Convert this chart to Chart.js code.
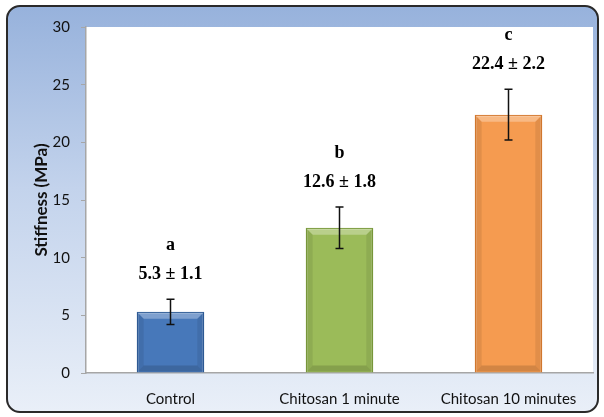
<!DOCTYPE html>
<html>
<head>
<meta charset="utf-8">
<script src="https://cdn.jsdelivr.net/npm/chart.js@4"></script>
<style>
  html, body { margin: 0; padding: 0; background: #ffffff; }
  #wrap { position: relative; width: 604px; height: 417px; }
  #frame {
    position: absolute; left: 6px; top: 5px; width: 589px; height: 404px;
    border: 2px solid #2a2a2a; border-radius: 14px;
    background: linear-gradient(to bottom, #97b2dc 0%, #c3d3ec 45%, #e9eff8 100%);
  }
  #stiffChart { position: absolute; left: 0; top: 0; }
</style>
</head>
<body>
<div id="wrap">
  <div id="frame"></div>
  <canvas id="stiffChart" width="604" height="417"></canvas>
</div>
<script>
// dati
const groups = ['Control', 'Chitosan 1 minute', 'Chitosan 10 minutes'];
const means = [5.3, 12.6, 22.4];
const sds = [1.1, 1.8, 2.2];
const letters = ['a', 'b', 'c'];
const yTicks = [0, 5, 10, 15, 20, 25, 30];

const fillColors = ['#4778ba', '#9bbb59', '#f59b50'];
const edgeColors = ['#2f5c97', '#7a9a3c', '#d57a30'];

// sfondo bianco dell'area del grafico
const plotBg = {
    id: 'plotBg',
    beforeDraw(chart) {
        const { ctx, chartArea: a } = chart;
        ctx.save();
        ctx.fillStyle = '#ffffff';
        ctx.fillRect(a.left, a.top, a.right - a.left, a.bottom - a.top);
        ctx.restore();
    }
};

// effetto smussato sulle barre
const bevel = {
    id: 'bevel',
    afterDatasetsDraw(chart) {
        const { ctx } = chart;
        const meta = chart.getDatasetMeta(0);
        ctx.save();
        meta.data.forEach((bar) => {
            const l = bar.x - bar.width / 2 + 1, r = bar.x + bar.width / 2 - 1;
            const t = bar.y + 1, b = bar.base - 1, d = 6;
            // striscia chiara in alto
            ctx.fillStyle = 'rgba(255,255,255,0.30)';
            ctx.beginPath();
            ctx.moveTo(l, t); ctx.lineTo(r, t); ctx.lineTo(r - d, t + d); ctx.lineTo(l + d, t + d);
            ctx.closePath(); ctx.fill();
            // lati più scuri
            ctx.fillStyle = 'rgba(0,0,0,0.08)';
            ctx.beginPath();
            ctx.moveTo(l, t); ctx.lineTo(l + d, t + d); ctx.lineTo(l + d, b - d); ctx.lineTo(l, b);
            ctx.closePath(); ctx.fill();
            ctx.beginPath();
            ctx.moveTo(r, t); ctx.lineTo(r - d, t + d); ctx.lineTo(r - d, b - d); ctx.lineTo(r, b);
            ctx.closePath(); ctx.fill();
            ctx.fillStyle = 'rgba(0,0,0,0.14)';
            ctx.beginPath();
            ctx.moveTo(l, b); ctx.lineTo(l + d, b - d); ctx.lineTo(r - d, b - d); ctx.lineTo(r, b);
            ctx.closePath(); ctx.fill();
        });
        ctx.restore();
    }
};

// barre di errore + etichette (lettera e media ± ds)
const errLabels = {
    id: 'errLabels',
    afterDatasetsDraw(chart) {
        const { ctx } = chart;
        const y = chart.scales.y;
        const meta = chart.getDatasetMeta(0);
        ctx.save();
        meta.data.forEach((bar, i) => {
            const x = bar.x;
            const top = y.getPixelForValue(means[i] + sds[i]);
            const bot = y.getPixelForValue(means[i] - sds[i]);
            ctx.strokeStyle = '#111';
            ctx.lineWidth = 1.5;
            ctx.beginPath();
            ctx.moveTo(x, top); ctx.lineTo(x, bot);
            ctx.moveTo(x - 4, top); ctx.lineTo(x + 4, top);
            ctx.moveTo(x - 4, bot); ctx.lineTo(x + 4, bot);
            ctx.stroke();

            ctx.fillStyle = '#000';
            ctx.font = 'bold 18px "Liberation Serif", "Times New Roman", serif';
            ctx.textAlign = 'center';
            ctx.textBaseline = 'middle';
            const valY = top - 25;
            ctx.fillText(means[i].toFixed(1) + ' \u00b1 ' + sds[i].toFixed(1), x, valY);
            ctx.fillText(letters[i], x, valY - 29);
        });
        ctx.restore();
    }
};

const ctx = document.getElementById('stiffChart').getContext('2d');
new Chart(ctx, {
    type: 'bar',
    data: {
        labels: groups,
        datasets: [{
            data: means,
            backgroundColor: fillColors,
            borderColor: edgeColors,
            borderWidth: 1.5,
            barPercentage: 0.4,
            categoryPercentage: 1.0
        }]
    },
    options: {
        responsive: false,
        animation: false,
        layout: { padding: { top: 27, right: 11, left: 0, bottom: 0 } },
        plugins: {
            legend: { display: false },
            tooltip: { enabled: false }
        },
        scales: {
            x: {
                grid: { display: false, drawTicks: false },
                border: { display: true, color: '#a6a6a6', width: 1.5 },
                ticks: {
                    color: '#111111',
                    padding: 17,
                    font: { family: 'Lato', size: 15 }
                },
                afterFit(s) { s.height = 44; }
            },
            y: {
                min: 0,
                max: 30,
                afterBuildTicks(s) { s.ticks = yTicks.map(v => ({ value: v })); },
                grid: { drawOnChartArea: false, drawTicks: true, tickLength: 5, color: '#a6a6a6' },
                border: { display: true, color: '#a6a6a6', width: 1.5 },
                ticks: {
                    color: '#111111',
                    padding: 11,
                    font: { family: 'Lato', size: 15 }
                },
                title: {
                    display: true,
                    text: 'Stiffness (MPa)',
                    color: '#111111',
                    padding: { top: 31, bottom: 0 },
                    font: { family: 'Lato', size: 17, weight: 'bold' }
                },
                afterFit(s) { s.width = 86; }
            }
        }
    },
    plugins: [plotBg, bevel, errLabels]
});
</script>
</body>
</html>
